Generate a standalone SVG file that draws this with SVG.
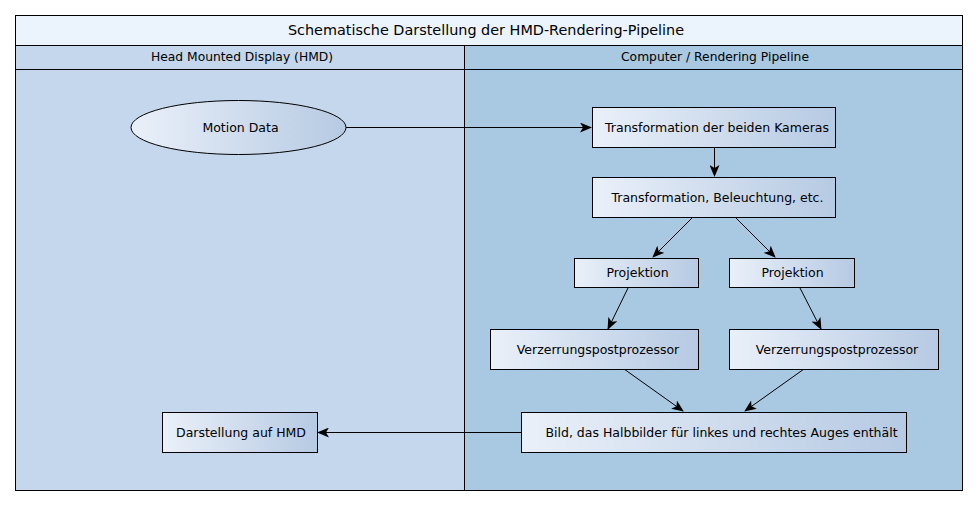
<svg xmlns="http://www.w3.org/2000/svg" width="978" height="506" viewBox="0 0 978 506">
<defs>
<linearGradient id="g" x1="0" y1="0" x2="1" y2="0">
<stop offset="0" stop-color="#eaf0f9"/>
<stop offset="1" stop-color="#b6cae3"/>
</linearGradient>
<marker id="ah" viewBox="0 0 12 10" refX="11" refY="5" markerWidth="12" markerHeight="10" markerUnits="userSpaceOnUse" orient="auto">
<path d="M0,0 L12,5 L0,10 L3,5 z" fill="#000"/>
</marker>
<style>
text{font-family:"DejaVu Sans",sans-serif;font-size:12.5px;fill:#000;text-anchor:middle;dominant-baseline:central}
.n{fill:url(#g);stroke:#000;stroke-width:1}
.c{stroke:#000;stroke-width:1;fill:none;marker-end:url(#ah)}
.f{stroke:#000;stroke-width:1}
</style>
</defs>
<rect width="978" height="506" fill="#fff"/>
<g id="frame">
<rect x="15.5" y="15.5" width="947" height="30" fill="#ebf3fd" class="f"/>
<rect x="15.5" y="45.5" width="449" height="445" fill="#c4d7ec" class="f"/>
<rect x="464.5" y="45.5" width="498" height="445" fill="#a9c8e2" class="f"/>
<line x1="15.5" y1="69.5" x2="962.5" y2="69.5" class="f"/>
<text x="486" y="30" style="font-size:14.4px">Schematische Darstellung der HMD-Rendering-Pipeline</text>
<text x="242" y="57" style="font-size:12.3px">Head Mounted Display (HMD)</text>
<text x="715" y="57" style="font-size:12.3px">Computer / Rendering Pipeline</text>
</g>
<g id="connectors">
<line x1="346" y1="127.5" x2="591" y2="127.5" class="c"/>
<line x1="714.5" y1="147" x2="714.5" y2="176" class="c"/>
<line x1="693" y1="217" x2="653" y2="257" class="c"/>
<line x1="735" y1="217" x2="775" y2="257" class="c"/>
<line x1="628" y1="288" x2="608" y2="329" class="c"/>
<line x1="800" y1="288" x2="821" y2="329" class="c"/>
<line x1="624" y1="369" x2="683" y2="411" class="c"/>
<line x1="804" y1="369" x2="745" y2="411" class="c"/>
<line x1="521" y1="432.5" x2="318" y2="432.5" class="c"/>
</g>
<g id="motion"><ellipse cx="238.5" cy="127.5" rx="107.5" ry="27" class="n"/><text x="240.5" y="127">Motion Data</text></g>
<g id="kameras"><rect x="592.5" y="107.5" width="243" height="40" class="n"/><text x="717" y="127">Transformation der beiden Kameras</text></g>
<g id="beleuchtung"><rect x="592.5" y="177.5" width="243" height="40" class="n"/><text x="717.5" y="197">Transformation, Beleuchtung, etc.</text></g>
<g id="projL"><rect x="574.5" y="258.5" width="124" height="29" class="n"/><text x="637.5" y="272.5">Projektion</text></g>
<g id="projR"><rect x="729.5" y="258.5" width="125" height="29" class="n"/><text x="792.5" y="272.5">Projektion</text></g>
<g id="verzL"><rect x="490.5" y="329.5" width="208" height="40" class="n"/><text x="598" y="349.5">Verzerrungspostprozessor</text></g>
<g id="verzR"><rect x="729.5" y="329.5" width="209" height="40" class="n"/><text x="837" y="349.5">Verzerrungspostprozessor</text></g>
<g id="bild"><rect x="521.5" y="412.5" width="385" height="40" class="n"/><text x="721.5" y="432.5">Bild, das Halbbilder für linkes und rechtes Auges enthält</text></g>
<g id="darstellung"><rect x="162.5" y="412.5" width="155" height="40" class="n"/><text x="241" y="432.5">Darstellung auf HMD</text></g>
</svg>
